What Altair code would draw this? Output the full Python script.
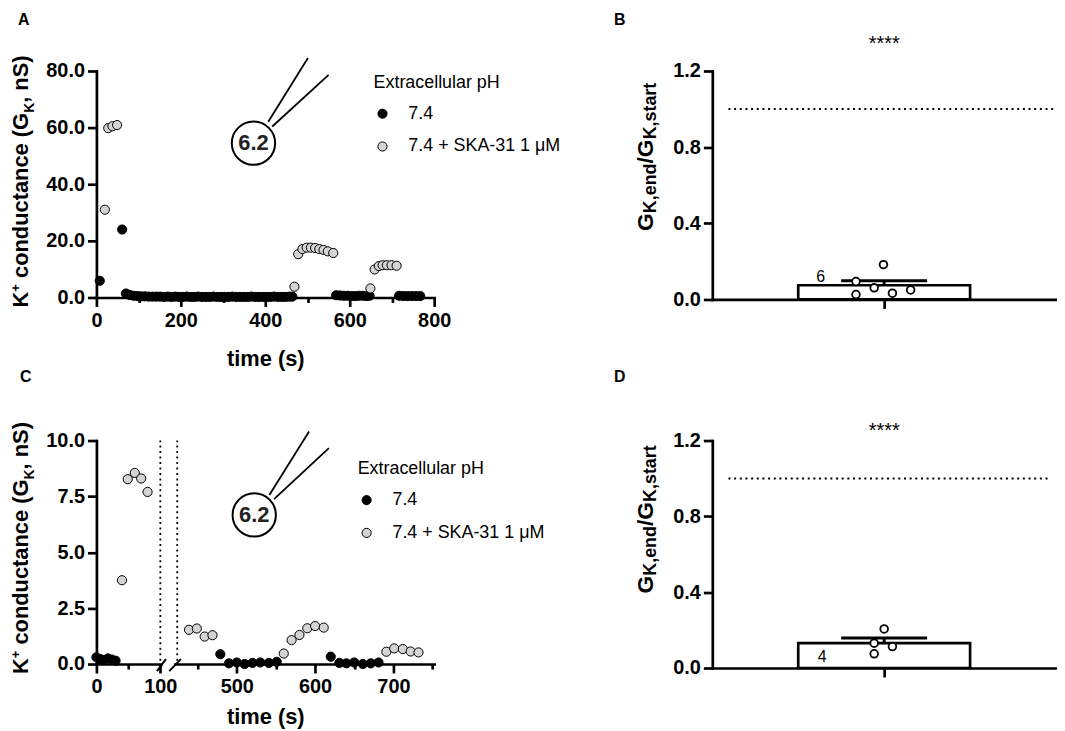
import altair as alt
import numpy as np
import pandas as pd

FONT = "Liberation Sans"
LBL_CTRL = "7.4"
LBL_SKA = "7.4 + SKA-31 1 \u03bcM"

# ---------------- data ----------------
# Panel A : K+ conductance (nS) vs time (s)
a_ctrl_t = ([8, 61]
            + [70, 79, 88, 97, 106, 115, 124, 133, 142, 151,
               160, 169, 178, 187, 196, 205, 214, 223, 232, 241,
               250, 259, 268, 277, 286, 295, 304, 313, 322, 331,
               340, 349, 358, 367, 376, 385, 394, 403, 412, 421,
               430, 439, 448, 457, 464]
            + [568, 577, 586, 595, 604, 613, 622, 631, 640, 647]
            + [717, 727, 737, 747, 757, 767])
a_ctrl_g = ([5.9, 24.0]
            + [1.4, 0.9, 0.6, 0.5, 0.4, 0.4, 0.3, 0.3, 0.3, 0.3,
               0.2, 0.3, 0.2, 0.3, 0.2, 0.2, 0.3, 0.2, 0.2, 0.3,
               0.2, 0.2, 0.2, 0.3, 0.2, 0.2, 0.2, 0.2, 0.3, 0.2,
               0.2, 0.2, 0.2, 0.3, 0.2, 0.2, 0.2, 0.2, 0.2, 0.3,
               0.2, 0.2, 0.2, 0.3, 0.3]
            + [0.8, 0.7, 0.6, 0.6, 0.5, 0.5, 0.6, 0.6, 0.5, 0.6]
            + [0.6, 0.5, 0.5, 0.5, 0.5, 0.5])
a_ska_t = ([20, 28, 38, 49]
           + [469, 478, 488, 498, 508, 518, 528, 538, 548, 561]
           + [649, 659, 669, 678, 688, 699, 711])
a_ska_g = ([31.0, 59.8, 60.5, 60.9]
           + [3.8, 15.3, 17.1, 17.6, 17.6, 17.5, 17.1, 16.8, 16.3, 15.7]
           + [3.2, 9.9, 11.1, 11.4, 11.4, 11.4, 11.2])

# Panel C : broken time axis (0-100 s and 420-750 s)
c_ctrl_t_left = [0, 6, 12, 18, 24, 30]
c_ctrl_g_left = [0.3, 0.22, 0.18, 0.25, 0.2, 0.15]
c_ska_t_left = [40, 49, 60, 70, 80]
c_ska_g_left = [3.75, 8.27, 8.55, 8.3, 7.7]
c_ctrl_t_right = [479, 490, 500, 510, 520, 530, 541, 551,
                  620, 631, 640, 650, 661, 671, 681]
c_ctrl_g_right = [0.44, 0.03, 0.07, 0.0, 0.05, 0.07, 0.05, 0.1,
                  0.33, 0.05, 0.03, 0.07, 0.0, 0.03, 0.07]
c_ska_t_right = [439, 449, 459, 469,
                 560, 570, 580, 590, 600, 611,
                 691, 701, 712, 722, 732]
c_ska_g_right = [1.53, 1.59, 1.23, 1.29,
                 0.47, 1.07, 1.3, 1.6, 1.7, 1.63,
                 0.55, 0.7, 0.67, 0.56, 0.52]

# Panels B and D : G_K,end / G_K,start per cell
b_ratio = [0.094, 0.026, 0.061, 0.183, 0.033, 0.050]
b_jitter = [-0.082, -0.082, -0.029, -0.002, 0.024, 0.077]
d_ratio = [0.206, 0.131, 0.113, 0.075]
d_jitter = [0.0, -0.029, 0.024, -0.029]

# ---------------- helpers ----------------
ONE = pd.DataFrame({"k": [0]})
W = {' ': 278, '(': 333, ')': 333, '+': 584, ',': 278, '/': 278, 'G': 778,
     'K': 722, 'S': 667, 'a': 556, 'c': 556, 'd': 611, 'e': 556, 'n': 611,
     'o': 611, 'r': 389, 's': 556, 't': 333, 'u': 611}


def tw(s, size):
    return sum(W.get(ch, 556) for ch in s) * size / 1000.0


def composed_title(pieces, x0, y0):
    layers = []
    off = 0.0
    for txt, size, dy in pieces:
        lead = len(txt) - len(txt.lstrip(' '))
        layers.append(
            alt.Chart(ONE).mark_text(
                text=txt.strip(), font=FONT, fontSize=size, fontWeight="bold",
                angle=270, align="left", baseline="alphabetic",
                dx=off + tw(' ' * lead, size), dy=dy, color="black")
            .encode(x=alt.value(x0), y=alt.value(y0)))
        off += tw(txt, size)
    return layers


def letter(ch, x0, y0):
    return alt.Chart(ONE).mark_text(
        text=ch, font=FONT, fontSize=16, fontWeight="bold", align="left",
        baseline="alphabetic", color="black").encode(x=alt.value(x0), y=alt.value(y0))


def tick_cond(test):
    return {"condition": {"test": test, "value": 5}, "value": 9}


def legend(x0, y0):
    return alt.Legend(
        title="Extracellular pH", orient="none", legendX=x0, legendY=y0,
        direction="vertical", titleFont=FONT, titleFontSize=18,
        titleFontWeight="normal", titleColor="black", labelFont=FONT,
        labelFontSize=18, labelColor="black", symbolType="circle",
        symbolSize=85, symbolStrokeColor="black", symbolStrokeWidth=1,
        symbolOpacity=1, symbolOffset=0, labelOffset=17, rowPadding=15,
        titlePadding=13, padding=0)


fill_scale = alt.Scale(domain=[LBL_CTRL, LBL_SKA], range=["#000000", "#d4d4d4"])


def series_df(t_ctrl, g_ctrl, t_ska, g_ska):
    return pd.concat([
        pd.DataFrame({"t": t_ctrl, "g": g_ctrl, "cond": LBL_CTRL}),
        pd.DataFrame({"t": t_ska, "g": g_ska, "cond": LBL_SKA}),
    ], ignore_index=True)


def rule(x1, y1, x2, y2, width=1.8, dash=None):
    kw = dict(color="black", strokeWidth=width)
    if dash:
        kw["strokeDash"] = dash
    return alt.Chart(ONE).mark_rule(**kw).encode(
        x=alt.datum(x1), y=alt.datum(y1), x2=alt.datum(x2), y2=alt.datum(y2))


def pipette(cx, cy, l1, l2):
    circ = alt.Chart(ONE).mark_point(
        shape="circle", size=1900, filled=True, fill="white", stroke="black",
        strokeWidth=2, opacity=1).encode(x=alt.datum(cx), y=alt.datum(cy))
    txt = alt.Chart(ONE).mark_text(
        text="6.2", font=FONT, fontSize=22, fontWeight="bold", color="#222222",
        baseline="middle").encode(x=alt.datum(cx), y=alt.datum(cy))
    return [rule(*l1), rule(*l2), circ, txt]


title_K = [("K", 22, 0), ("+", 13, -8), (" conductance (G", 22, 0), ("K", 14, 6), (", nS)", 22, 0)]

# invisible anchor fixing the top-left corner of the figure
anchor = alt.Chart(ONE).mark_point(opacity=0, size=1, strokeWidth=0, filled=True).encode(
    x=alt.value(-88.5), y=alt.value(-60.5))

# ---------------- panel A ----------------
dfA = series_df(a_ctrl_t, a_ctrl_g, a_ska_t, a_ska_g)
xA = alt.X("t:Q", scale=alt.Scale(domain=[0, 800], nice=False),
           axis=alt.Axis(values=list(range(0, 801, 100)),
                         labelExpr="datum.value % 200 === 0 ? datum.label : ''",
                         tickSize=tick_cond("datum.value % 200 !== 0"),
                         labelPadding=4, title="time (s)", titleFont=FONT,
                         titleFontSize=22, titleFontWeight="bold",
                         titleY=61, titleBaseline="middle"))
yA = alt.Y("g:Q", scale=alt.Scale(domain=[0, 80], nice=False),
           axis=alt.Axis(values=list(range(0, 81, 10)),
                         labelExpr="datum.value % 20 === 0 ? format(datum.value, '.1f') : ''",
                         tickSize=tick_cond("datum.value % 20 !== 0"), title=None))
ptsA = alt.Chart(dfA).mark_circle(size=85, stroke="black", strokeWidth=1, opacity=1).encode(
    x=xA, y=yA, fill=alt.Fill("cond:N", scale=fill_scale, legend=legend(279, 3)))
panelA = alt.layer(
    ptsA,
    *pipette(372, 54.5, (407, 62.1, 501, 84.6), (416.5, 60.4, 550, 78.6)),
    *composed_title(title_K, -69, 238),
    letter("A", -79, -46.5),
    anchor,
).properties(width=340, height=228)


# ---------------- panels B / D ----------------
def ratio_panel(vals, jit, n_text, n_xy, star_y, dot_end, title_xy, let, let_xy, h):
    df = pd.DataFrame({"v": vals, "x": [0.5 + j for j in jit]})
    m = float(np.mean(vals))
    s = float(np.std(vals, ddof=1) / np.sqrt(len(vals)))
    xs = alt.Scale(domain=[0, 1], nice=False, zero=False)
    ys = alt.Scale(domain=[0, 1.2], nice=False)
    xax = alt.Axis(values=[0.5], labels=False, title=None, tickSize=9)
    yax = alt.Axis(values=[0, 0.2, 0.4, 0.6, 0.8, 1.0, 1.2],
                   labelExpr="round(datum.value*10) % 4 === 0 ? format(datum.value, '.1f') : ''",
                   tickSize=tick_cond("round(datum.value*10) % 4 !== 0"), title=None)
    dots = alt.Chart(df).mark_point(
        shape="circle", size=60, filled=True, fill="white", stroke="black",
        strokeWidth=1.8, opacity=1).encode(
        x=alt.X("x:Q", scale=xs, axis=xax), y=alt.Y("v:Q", scale=ys, axis=yax))
    ref = alt.Chart(ONE).mark_rule(color="black", strokeWidth=2, strokeDash=[2, 3.7]).encode(
        x=alt.datum(0.047), x2=alt.datum(dot_end), y=alt.datum(1.0))
    bar = alt.Chart(ONE).mark_bar(fill="white", stroke="black", strokeWidth=2.7).encode(
        x=alt.datum(0.25), x2=alt.datum(0.75), y=alt.datum(0), y2=alt.datum(m))
    err = alt.Chart(ONE).mark_rule(color="black", strokeWidth=3).encode(
        x=alt.datum(0.5), y=alt.datum(m), y2=alt.datum(m + s))
    cap = alt.Chart(ONE).mark_rule(color="black", strokeWidth=3).encode(
        x=alt.datum(0.375), x2=alt.datum(0.625), y=alt.datum(m + s))
    nlab = alt.Chart(ONE).mark_text(text=n_text, font=FONT, fontSize=16, color="black",
                                    baseline="middle").encode(
        x=alt.datum(n_xy[0]), y=alt.datum(n_xy[1]))
    star = alt.Chart(ONE).mark_text(text="****", font=FONT, fontSize=20, color="black",
                                    baseline="alphabetic").encode(
        x=alt.datum(0.5), y=alt.datum(star_y))
    tpieces = [("G", 23, 0), ("K,end", 18, 3), ("/G", 23, 0), ("K,start", 18, 3)]
    return alt.layer(
        ref, bar, err, cap, dots, nlab, star,
        *composed_title(tpieces, title_xy[0], title_xy[1]),
        letter(let, let_xy[0], let_xy[1]),
    ).properties(width=346, height=h)


panelB = ratio_panel(b_ratio, b_jitter, "6", (0.315, 0.116), 1.31, 1.0, (-60, 161), "B", (-99, -46.5), 230)
panelD = ratio_panel(d_ratio, d_jitter, "4", (0.32, 0.056), 1.22, 0.98, (-60, 154), "D", (-99, -59), 229)

# ---------------- panel C (broken axis: two x scales in one view) ----------------
yC = alt.Y("g:Q", scale=alt.Scale(domain=[0, 10], nice=False),
           axis=alt.Axis(values=[0, 1.25, 2.5, 3.75, 5, 6.25, 7.5, 8.75, 10],
                         labelExpr="round(datum.value*100) % 250 === 0 ? format(datum.value, '.1f') : ''",
                         tickSize=tick_cond("round(datum.value*100) % 250 !== 0"), title=None))
dfCL = series_df(c_ctrl_t_left, c_ctrl_g_left, c_ska_t_left, c_ska_g_left)
dfCR = series_df(c_ctrl_t_right, c_ctrl_g_right, c_ska_t_right, c_ska_g_right)
legC = legend(263, 20)

ptsCL = alt.Chart(dfCL).mark_circle(size=85, stroke="black", strokeWidth=1, opacity=1).encode(
    x=alt.X("t:Q", scale=alt.Scale(domain=[0, 101], range=[0, 65], nice=False),
            axis=alt.Axis(orient="bottom", values=[0, 50, 100],
                          labelExpr="datum.value % 100 === 0 ? datum.label : ''",
                          tickSize=tick_cond("datum.value % 100 !== 0"),
                          labelPadding=4, title=None)),
    y=yC,
    fill=alt.Fill("cond:N", scale=fill_scale, legend=legC))
leftC = alt.layer(
    ptsCL,
    rule(100, 0.15, 100, 10, width=1.8, dash=[2, 3.5]),
    rule(94.7, -0.32, 108.7, 0.22, width=2),
)

ptsCR = alt.Chart(dfCR).mark_circle(size=85, stroke="black", strokeWidth=1, opacity=1).encode(
    x=alt.X("t:Q", scale=alt.Scale(domain=[421, 752], range=[79, 340], nice=False),
            axis=alt.Axis(orient="bottom", values=[450, 500, 550, 600, 650, 700, 750],
                          labelExpr="datum.value % 100 === 0 ? datum.label : ''",
                          tickSize=tick_cond("datum.value % 100 !== 0"),
                          labelPadding=4, title="time (s)", titleFont=FONT,
                          titleFontSize=22, titleFontWeight="bold",
                          titleX=170, titleY=53, titleBaseline="middle")),
    y=yC,
    fill=alt.Fill("cond:N", scale=fill_scale, legend=legC))
rightC = alt.layer(
    ptsCR,
    rule(424, 0.15, 424, 10, width=1.8, dash=[2, 3.5]),
    rule(413.8, -0.32, 428.6, 0.22, width=2),
    *pipette(522.3, 6.67, (541.6, 7.56, 592.3, 10.4), (547.6, 7.38, 617.6, 9.66)),
)

panelC = alt.layer(
    leftC, rightC,
    *composed_title(title_K, -69, 235),
    letter("C", -77, -58.5),
).resolve_scale(x="independent").properties(width=340, height=225)

chart = alt.concat(
    panelA, panelB, panelC, panelD, columns=2,
    spacing={"row": 142, "column": 280}, bounds="flush",
).resolve_scale(
    x="independent", y="independent", fill="independent"
).resolve_legend(fill="independent").properties(
    padding=0, background="white"
).configure_view(stroke=None).configure_axis(
    grid=False, domainColor="black", domainWidth=2.7, domainCap="square",
    tickColor="black", tickWidth=2.7, labelFont=FONT, labelFontSize=20,
    labelFontWeight="bold", labelColor="black", labelPadding=3,
    labelOverlap=False, labelFlush=False, titleColor="black",
)

chart.save("out.html", embed_options={"renderer": "svg", "actions": False})
